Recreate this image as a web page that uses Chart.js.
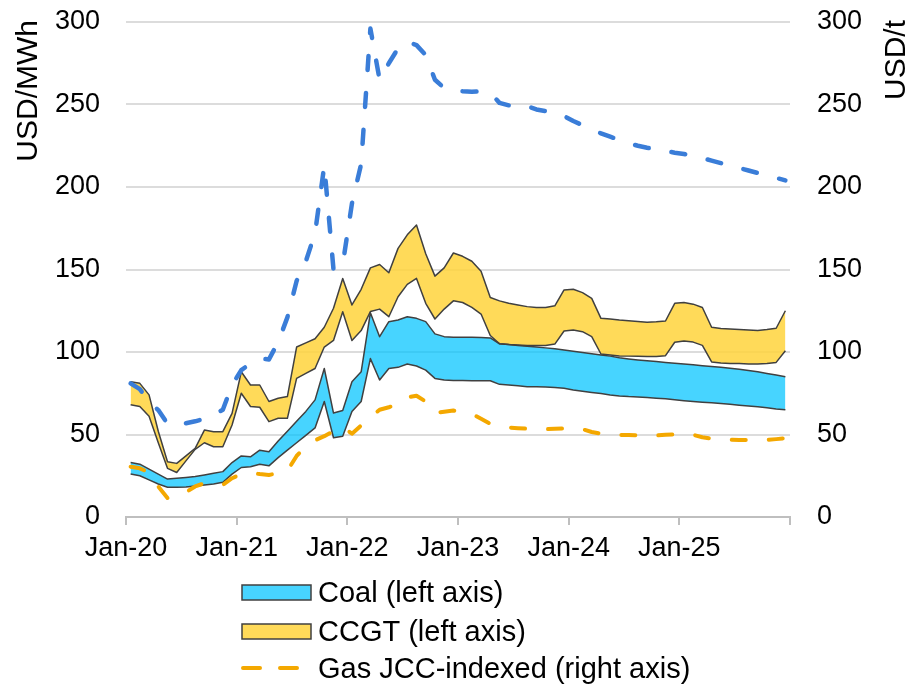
<!DOCTYPE html>
<html>
<head>
<meta charset="utf-8">
<script src="https://cdn.jsdelivr.net/npm/chart.js@4.4.1/dist/chart.umd.min.js"></script>
<style>
    html, body { margin: 0; padding: 0; background: #fff; }
    #grafico { display: block; }
</style>
</head>
<body>
<canvas id="grafico" width="910" height="687"></canvas>
<script>
// tick labels on the time axis (one per January, monthly points in between)
const yearLabels = ['Jan-20', 'Jan-21', 'Jan-22', 'Jan-23', 'Jan-24', 'Jan-25'];

// Coal generation cost band, USD/MWh (left axis)
const coalLow = [26, 25, 22.5, 20, 18, 18, 18.2, 18.8, 19.4, 20, 21, 26,
    30, 30.5, 32, 31, 36, 40.5, 45, 49.5, 54, 70, 48, 49,
    64, 70, 96, 83, 90, 90.7, 92.7, 91.5, 89, 84, 83, 82.8,
    82.7, 82.6, 82.6, 82.6, 80.4, 80, 79.5, 79, 79, 78.8, 78.5, 78,
    77, 76.2, 75.5, 74.8, 74, 73.4, 73, 72.8, 72.4, 72, 71.6, 71,
    70.5, 70, 69.6, 69.2, 68.8, 68.3, 67.8, 67.3, 66.8, 66.2, 65.5, 65];
const coalHigh = [33, 32, 29, 26, 23, 23.5, 24, 24.5, 25.5, 26.5, 27.5, 33,
    37, 36.5, 40.5, 39.5, 46, 52, 58, 64, 71, 90, 63, 64.5,
    82, 88, 123.8, 109.3, 118.4, 119.4, 121.4, 120.4, 118.4, 111, 109.3, 109,
    109, 108.9, 108.8, 108.5, 105, 104.5, 104, 103.5, 103, 102.5, 102, 101.2,
    100.5, 99.7, 99, 98.2, 97.5, 96.5, 95.8, 95.2, 94.7, 94.2, 93.7, 93.2,
    92.7, 92.2, 91.7, 91.2, 90.7, 90.2, 89.5, 88.8, 88, 87, 86, 85];

// CCGT generation cost band, USD/MWh (left axis)
const ccgtLow = [68, 67, 61, 45, 29.5, 27, 34, 41, 45, 42.6, 42.6, 55.8,
    75, 67, 66.5, 57.8, 59.8, 59.8, 84, 87, 90, 103, 107, 124.4,
    107, 113, 124.5, 126, 121.4, 133.5, 141, 144.6, 129.5, 120, 126, 131,
    130, 127, 123, 110, 105, 104.5, 104.2, 104, 104, 104, 104.8, 112.7,
    113.3, 112.3, 109.3, 98.8, 98.2, 97.6, 97.5, 97.4, 97.2, 97.3, 97.8, 105.9,
    106.7, 106, 104, 94, 93.3, 93.1, 93, 92.8, 92.7, 93, 93.7, 100.8];
const ccgtHigh = [82, 81, 74, 52, 33.5, 32.5, 37, 41.6, 52.7, 51.7, 51.7, 62.8,
    88, 80, 80, 70, 72, 73, 103, 105.5, 108, 115, 126.5, 144.6,
    128.5, 138, 151, 153, 148, 162.8, 171, 177, 159.5, 146, 151, 160,
    158, 155, 149, 133, 131, 129.5, 128.5, 127.5, 127, 127, 128, 137.6,
    138, 136, 132.5, 120.4, 120, 119.4, 119, 118.5, 118, 118.3, 118.8, 129.5,
    130, 129, 127, 115, 114.2, 114, 113.6, 113.3, 113, 113.6, 114.4, 125];

// Gas JCC-indexed (right axis)
const gasJcc = [30.5, 29.5, 27, 18.4, 11.5, 12.5, 15, 18.5, 20.5, 20, 19.5, 23.5,
    26, 26.7, 26, 25.5, 26.5, 28, 37, 43, 46.5, 49, 52, 54.7,
    50.5, 55.5, 60.5, 65, 66.5, 68.5, 72.5, 73.5, 70, 63, 63.8, 64.5,
    63.5, 62.5, 59.5, 56.5, 54.8, 54.2, 53.8, 53.5, 53.3, 53.2, 53.5, 53.7,
    53.7, 53.2, 51.5, 50.5, 49.8, 49.7, 49.7, 49.5, 49.2, 49.4, 49.8, 50,
    50.3, 49.8, 48.3, 47.5, 47, 46.8, 46.7, 46.7, 46.7, 46.8, 47.2, 47.7];

// Coal price, USD/t (right axis, not in legend)
const coalPrice = [81, 77.5, 70, 64.8, 56.5, 56, 56.8, 58, 59.5, 62, 65, 80,
    89, 93, 96, 95.5, 106, 121, 143, 155, 172, 213, 150, 153,
    190, 214, 296, 265, 275, 284, 288, 286, 280, 265, 260, 258.5,
    258, 257.8, 258, 257, 251, 249.5, 250, 249, 247, 246, 245.5, 243,
    240, 237.5, 235, 232.5, 230.5, 228.5, 226.5, 225, 223.8, 222.8, 221.8, 220.8,
    220, 218.8, 217.5, 216, 214.5, 213, 211.5, 210, 208.5, 207, 205.5, 204];

const familia = '"Liberation Sans", Arial, sans-serif';
const colorCarbon = 'rgba(0,196,255,0.72)';
const colorCcgt = 'rgba(255,212,60,0.85)';

// monthly points sit in the middle of their month
const aPuntos = arr => arr.map((v, i) => ({ x: i + 0.5, y: v }));

const leyenda = {
    id: 'leyenda',
    afterDraw(chart) {
        const ctx = chart.ctx;
        ctx.save();
        ctx.fillStyle = '#000';
        ctx.textBaseline = 'alphabetic';

        // axis titles, both reading upwards
        ctx.font = '30px ' + familia;
        ctx.save();
        ctx.translate(37, 20);
        ctx.rotate(-Math.PI / 2);
        ctx.textAlign = 'right';
        ctx.fillText('USD/MWh', 0, 0);
        ctx.restore();

        ctx.save();
        ctx.translate(905, 20);
        ctx.rotate(-Math.PI / 2);
        ctx.textAlign = 'right';
        ctx.fillText('USD/t', 0, 0);
        ctx.restore();

        ctx.font = '29px ' + familia;
        ctx.textAlign = 'left';
        ctx.lineWidth = 1.5;
        ctx.strokeStyle = '#404040';

        ctx.fillStyle = colorCarbon;
        ctx.fillRect(242, 585, 69, 15);
        ctx.strokeRect(242, 585, 69, 15);
        ctx.fillStyle = '#000';
        ctx.fillText('Coal (left axis)', 318, 602);

        ctx.fillStyle = colorCcgt;
        ctx.fillRect(242, 624, 69, 15);
        ctx.strokeRect(242, 624, 69, 15);
        ctx.fillStyle = '#000';
        ctx.fillText('CCGT (left axis)', 318, 641);

        ctx.strokeStyle = '#f4a800';
        ctx.lineWidth = 4;
        ctx.lineCap = 'round';
        ctx.beginPath();
        ctx.moveTo(243, 668);
        ctx.lineTo(260, 668);
        ctx.moveTo(280, 668);
        ctx.lineTo(297, 668);
        ctx.stroke();
        ctx.fillText('Gas JCC-indexed (right axis)', 318, 678);

        ctx.restore();
    }
};

// fixed axis widths; drop the label overflow padding so the plot starts at the top gridline
function anchoEje(ancho) {
    return s => {
        s.width = ancho;
        s.paddingTop = 0;
        s.paddingBottom = 0;
    };
}

const ctx = document.querySelector('#grafico').getContext('2d');
const myChart = new Chart(ctx, {
    type: 'line',
    data: {
        datasets: [{
            label: 'Coal price',
            data: aPuntos(coalPrice),
            yAxisID: 'y2',
            borderColor: '#3a7dd8',
            borderWidth: 4.5,
            borderDash: [14, 23],
            borderCapStyle: 'round',
            fill: false,
            order: 0
        }, {
            label: 'Gas JCC-indexed (right axis)',
            data: aPuntos(gasJcc),
            yAxisID: 'y2',
            borderColor: '#f4a800',
            borderWidth: 4,
            borderDash: [14, 23],
            borderCapStyle: 'round',
            fill: false,
            order: 1
        }, {
            label: 'CCGT (left axis)',
            data: aPuntos(ccgtHigh),
            yAxisID: 'y',
            borderColor: '#404040',
            borderWidth: 1.5,
            backgroundColor: colorCcgt,
            fill: '+1',
            order: 2
        }, {
            label: 'CCGT low',
            data: aPuntos(ccgtLow),
            yAxisID: 'y',
            borderColor: '#404040',
            borderWidth: 1.5,
            fill: false,
            order: 3
        }, {
            label: 'Coal (left axis)',
            data: aPuntos(coalHigh),
            yAxisID: 'y',
            borderColor: '#404040',
            borderWidth: 1.5,
            backgroundColor: colorCarbon,
            fill: '+1',
            order: 4
        }, {
            label: 'Coal low',
            data: aPuntos(coalLow),
            yAxisID: 'y',
            borderColor: '#404040',
            borderWidth: 1.5,
            fill: false,
            order: 5
        }]
    },
    options: {
        responsive: false,
        animation: false,
        devicePixelRatio: 1,
        layout: { padding: { top: 22, left: 0, right: 0, bottom: 0 } },
        elements: {
            point: { radius: 0 },
            line: { tension: 0, borderJoinStyle: 'round' }
        },
        scales: {
            x: {
                type: 'linear',
                min: 0,
                max: 72,
                ticks: {
                    stepSize: 12,
                    autoSkip: false,
                    maxRotation: 0,
                    padding: 7,
                    color: '#000',
                    font: { family: familia, size: 27 },
                    callback: v => yearLabels[v / 12] || ''
                },
                grid: { drawOnChartArea: false, drawTicks: true, tickLength: 8, color: '#bfbfbf', lineWidth: 2 },
                border: { display: true, color: '#bfbfbf', width: 2 },
                afterFit: s => { s.height = 170; }
            },
            y: {
                position: 'left',
                min: 0,
                max: 300,
                ticks: {
                    stepSize: 50,
                    padding: 26,
                    color: '#000',
                    font: { family: familia, size: 27 }
                },
                grid: {
                    color: c => c.tick.value === 0 ? 'rgba(0,0,0,0)' : '#dcdcdc',
                    lineWidth: 2,
                    drawTicks: false
                },
                border: { display: false },
                afterFit: anchoEje(126)
            },
            y2: {
                position: 'right',
                min: 0,
                max: 300,
                ticks: {
                    stepSize: 50,
                    padding: 27,
                    color: '#000',
                    font: { family: familia, size: 27 }
                },
                grid: { drawOnChartArea: false, drawTicks: false },
                border: { display: false },
                afterFit: anchoEje(120)
            }
        },
        plugins: {
            legend: { display: false },
            tooltip: { enabled: false },
            filler: { drawTime: 'beforeDatasetsDraw' }
        }
    },
    plugins: [leyenda]
});
</script>
</body>
</html>
